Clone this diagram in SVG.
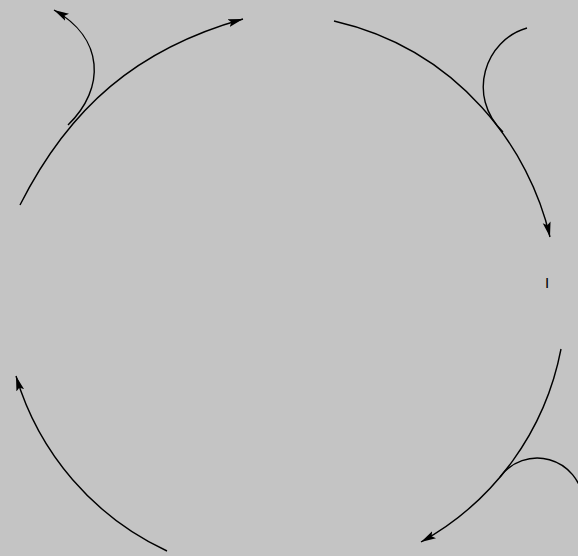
<svg xmlns="http://www.w3.org/2000/svg" width="578" height="556" viewBox="0 0 578 556">
<style>
.e{fill:none;stroke:#000;stroke-width:1.4}
.lbl{font-family:"Liberation Sans",Arial,sans-serif;font-size:15px;fill:#000}
</style>
<defs>
<marker id="ah" markerUnits="userSpaceOnUse" markerWidth="16" markerHeight="10" viewBox="0 0 16 10" refX="15" refY="5" orient="auto">
<path d="M0,1 L15,5 L0,9 L3,5 z" fill="#000"/>
</marker>
</defs>
<rect x="0" y="0" width="578" height="556" fill="#c4c4c4"/>
<g id="edges">
<path class="e" d="M20,205 C69.5,107 137.4,48.7 243,19" marker-end="url(#ah)"/>
<path class="e" d="M334,21 C460,50 530,150 550,237" marker-end="url(#ah)"/>
<path class="e" d="M561,349 A281,281 0 0 1 421,542" marker-end="url(#ah)"/>
<path class="e" d="M167,551 A281,281 0 0 1 16,376" marker-end="url(#ah)"/>
<path class="e" d="M68,125 C106,88 104,38 54,10" marker-end="url(#ah)"/>
<path class="e" d="M527,28 C485,40 466,96 503,132"/>
<path class="e" d="M500,477 A46,46 0 0 1 583,500"/>
</g>
<g id="node-I">
<text class="lbl" x="547" y="288" text-anchor="middle">I</text>
</g>
</svg>
